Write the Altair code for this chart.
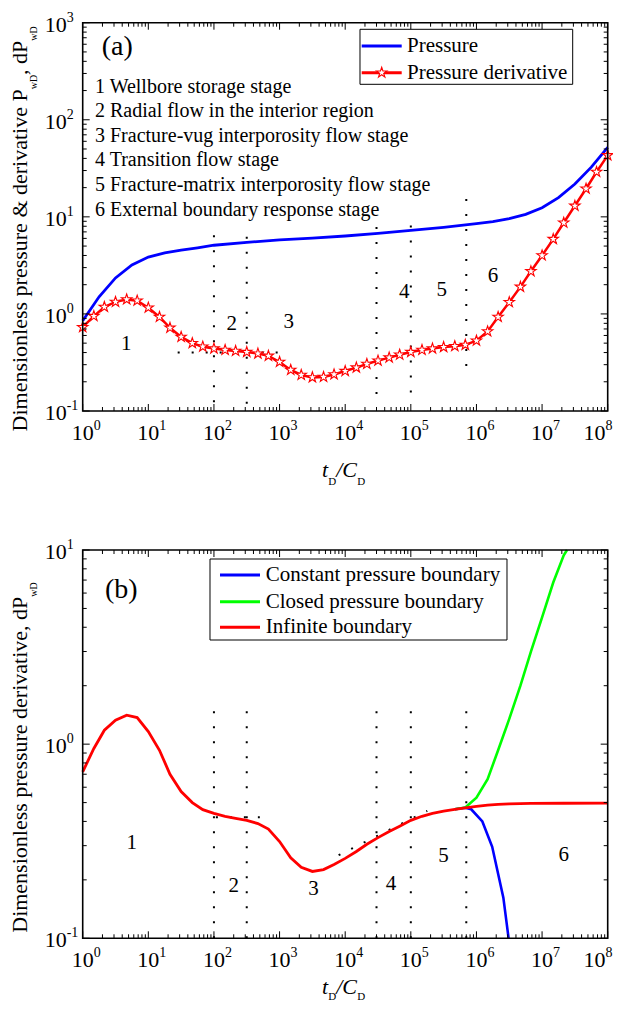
import altair as alt
import pandas as pd

FONT = "Liberation Serif"
W, H = 525, 388.3          # plot area of one panel
OFF = 527.3                # vertical offset of panel (b) inside the single view
PAD_L, PAD_T, PAD_R = 74.7, 14.7, 5.3

# ---------------- data ----------------
X_EXP = [0, 1, 2, 3, 4, 5, 6, 7, 8]
YA_EXP = [-1, 0, 1, 2, 3]
YB_EXP = [-1, 0, 1]
MINOR = [2, 3, 4, 5, 6, 7, 8, 9]

# panel (a): pressure, log10(tD/CD) -> PwD
P_LOGT = [0, 0.25, 0.5, 0.75, 1.0, 1.25, 1.5, 1.75, 2.0, 2.5, 3.0, 3.5, 4.0, 4.5,
          5.0, 5.5, 6.0, 6.25, 6.5, 6.75, 7.0, 7.25, 7.5, 7.75, 8.0]
P_VAL = [0.85, 1.5, 2.35, 3.2, 3.85, 4.25, 4.55, 4.8, 5.1, 5.45, 5.8, 6.05, 6.35, 6.75,
         7.25, 7.8, 8.5, 8.95, 9.6, 10.6, 12.4, 15.8, 21.8, 32.5, 52]

# panel (a): pressure derivative (star markers)
D_LOGT = [0, 0.17, 0.33, 0.5, 0.67, 0.83, 1.0, 1.17, 1.33, 1.5, 1.67, 1.83, 2.0, 2.17,
          2.33, 2.5, 2.67, 2.83, 3.0, 3.17, 3.33, 3.5, 3.67, 3.83, 4.0, 4.17, 4.33, 4.5,
          4.67, 4.83, 5.0, 5.17, 5.33, 5.5, 5.67, 5.83, 6.0, 6.17, 6.33, 6.5, 6.67, 6.83,
          7.0, 7.17, 7.33, 7.5, 7.67, 7.83, 8.0]
D_VAL = [0.73, 0.95, 1.18, 1.33, 1.41, 1.37, 1.16, 0.93, 0.72, 0.58, 0.50, 0.46, 0.44,
         0.425, 0.415, 0.405, 0.39, 0.37, 0.32, 0.265, 0.235, 0.222, 0.224, 0.238, 0.258,
         0.28, 0.305, 0.33, 0.355, 0.38, 0.405, 0.425, 0.44, 0.455, 0.465, 0.48, 0.53,
         0.66, 0.93, 1.32, 1.9, 2.75, 4.0, 5.9, 8.7, 13, 19.5, 29, 43]

# panel (b): infinite boundary
I_LOGT = [0, 0.17, 0.33, 0.5, 0.67, 0.83, 1.0, 1.17, 1.33, 1.5, 1.67, 1.83, 2.0, 2.17,
          2.33, 2.5, 2.67, 2.83, 3.0, 3.17, 3.33, 3.5, 3.67, 3.83, 4.0, 4.17, 4.33, 4.5,
          4.67, 4.83, 5.0, 5.17, 5.33, 5.5, 5.67, 5.83, 6.0, 6.17, 6.33, 6.5, 6.83, 7.33, 8.0]
I_VAL = [0.72, 0.95, 1.18, 1.33, 1.41, 1.37, 1.16, 0.93, 0.7, 0.57, 0.50, 0.46, 0.44,
         0.425, 0.415, 0.405, 0.39, 0.365, 0.315, 0.26, 0.232, 0.221, 0.226, 0.24, 0.258,
         0.28, 0.305, 0.33, 0.355, 0.378, 0.405, 0.425, 0.44, 0.452, 0.462, 0.47, 0.478,
         0.485, 0.49, 0.493, 0.495, 0.496, 0.497]

# panel (b): closed boundary (leaves the frame at the top, 10)
C_LOGT = [5.67, 5.83, 6.0, 6.17, 6.33, 6.5, 6.67, 6.83, 7.0, 7.17, 7.33, 7.38]
C_VAL = [0.462, 0.472, 0.53, 0.66, 0.93, 1.35, 2.0, 3.0, 4.5, 6.8, 9.4, 10.0]

# panel (b): constant pressure boundary (leaves the frame at the bottom, 0.1)
K_LOGT = [5.67, 5.83, 5.92, 6.09, 6.24, 6.41, 6.49]
K_VAL = [0.462, 0.47, 0.462, 0.40, 0.296, 0.162, 0.1]

# dotted stage separators
VL_T = [100, 316, 30000, 100000, 700000]
VLA_LO = [0.123, 0.119, 0.15, 0.155, 0.29]
VLA_HI = [7.5, 7.2, 9.1, 10, 18]
VLB_LO = [0.1, 0.1, 0.1, 0.1, 0.1]
VLB_HI = [1.64, 1.64, 1.64, 1.64, 1.64]

SEGA_T1, SEGA_T2, SEGA_V1, SEGA_V2 = [28], [1000], [0.40], [0.40]
SEGB_T1, SEGB_T2 = [107, 7940], [500, 178000]
SEGB_V1, SEGB_V2 = [0.42, 0.268], [0.42, 0.453]

# stage numbers
NUM_LABELS = ["1", "2", "3", "4", "5", "6"]
NUMA_T = [4.6, 186, 1380, 79400, 295000, 1.78e6]
NUMA_V = [0.49, 0.79, 0.82, 1.67, 1.77, 2.48]
NUMB_T = [5.6, 200, 3300, 50000, 316000, 2.14e7]
NUMB_V = [0.311, 0.186, 0.18, 0.19, 0.266, 0.27]

STAGES = ["1 Wellbore storage stage",
          "2 Radial flow in the interior region",
          "3 Fracture-vug interporosity flow stage",
          "4 Transition flow stage",
          "5 Fracture-matrix interporosity flow stage",
          "6 External boundary response stage"]

STAR = ("M0,-1L0.2245,-0.309L0.9511,-0.309L0.3633,0.118L0.5878,0.809L0,0.382"
        "L-0.5878,0.809L-0.3633,0.118L-0.9511,-0.309L-0.2245,-0.309Z")

RED, BLUE, GREEN = "#ff0000", "#0000ff", "#00ff00"

xs = alt.Scale(type="log", domain=[1, 1e8], nice=False)
ysa = alt.Scale(type="log", domain=[0.1, 1000], nice=False, range=[H, 0])
ysb = alt.Scale(type="log", domain=[0.1, 10], nice=False, range=[OFF + H, OFF])

dummy = pd.DataFrame({"k": [0]})


def X(f):
    return alt.X(f"{f}:Q", scale=xs, axis=None)


def Y(f, sc):
    return alt.Y(f"{f}:Q", scale=sc, axis=None)


def txt(text, x, y, size, align="left", baseline="alphabetic", angle=None, style="normal", lh=None):
    kw = dict(text=text, font=FONT, fontSize=size, align=align, baseline=baseline,
              fontStyle=style, color="black")
    if angle is not None:
        kw["angle"] = angle
    if lh is not None:
        kw["lineHeight"] = lh
    return alt.Chart(dummy).mark_text(**kw).encode(x=alt.value(x), y=alt.value(y))


def curve(logt, vals, sc, color, width):
    df = pd.DataFrame({"t": [10.0 ** e for e in logt], "v": vals})
    return alt.Chart(df).mark_line(color=color, strokeWidth=width).encode(
        x=X("t"), y=Y("v", sc), order="t:Q")


def frame(sc, yexp, y0):
    out = []
    xmaj = pd.DataFrame({"t": [10.0 ** e for e in X_EXP]})
    xmin = pd.DataFrame({"t": [m * 10.0 ** e for e in X_EXP[:-1] for m in MINOR]})
    ymaj = pd.DataFrame({"v": [10.0 ** e for e in yexp]})
    ymin = pd.DataFrame({"v": [m * 10.0 ** e for e in yexp[:-1] for m in MINOR]})
    yb = y0 + H
    for df, L in ((xmaj, 7), (xmin, 4)):
        out.append(alt.Chart(df).mark_rule(color="black", strokeWidth=1).encode(
            x=X("t"), y=alt.value(yb), y2=alt.value(yb - L)))
        out.append(alt.Chart(df).mark_rule(color="black", strokeWidth=1).encode(
            x=X("t"), y=alt.value(y0), y2=alt.value(y0 + L)))
    for df, L in ((ymaj, 7), (ymin, 4)):
        out.append(alt.Chart(df).mark_rule(color="black", strokeWidth=1).encode(
            y=Y("v", sc), x=alt.value(0), x2=alt.value(L)))
        out.append(alt.Chart(df).mark_rule(color="black", strokeWidth=1).encode(
            y=Y("v", sc), x=alt.value(W), x2=alt.value(W - L)))
    # frame box
    out.append(alt.Chart(dummy).mark_rect(fillOpacity=0, stroke="black", strokeWidth=1.6).encode(
        x=alt.value(0), x2=alt.value(W), y=alt.value(y0), y2=alt.value(yb)))
    # tick labels 10^n (last one pulled in so it stays inside the page)
    inner = X_EXP[:-1]
    xd = pd.DataFrame({"t": [10.0 ** e for e in inner], "b": ["10"] * len(inner),
                       "e": [str(e) for e in inner]})
    yd = pd.DataFrame({"v": [10.0 ** e for e in yexp], "b": ["10"] * len(yexp),
                       "e": [str(e) for e in yexp]})
    out.append(alt.Chart(xd).mark_text(font=FONT, fontSize=22, align="center", baseline="alphabetic").encode(
        x=X("t"), y=alt.value(yb + 29), text="b:N"))
    out.append(alt.Chart(xd).mark_text(font=FONT, fontSize=14, align="left", baseline="alphabetic", dx=11).encode(
        x=X("t"), y=alt.value(yb + 19), text="e:N"))
    last_x = W + PAD_R - 7.5
    out.append(txt("10", last_x, yb + 29, 22, align="right"))
    out.append(txt(str(X_EXP[-1]), last_x, yb + 19, 14, align="left"))
    out.append(alt.Chart(yd).mark_text(font=FONT, fontSize=22, align="right", baseline="alphabetic", dy=9).encode(
        y=Y("v", sc), x=alt.value(-16), text="b:N"))
    out.append(alt.Chart(yd).mark_text(font=FONT, fontSize=14, align="left", baseline="alphabetic", dy=-1).encode(
        y=Y("v", sc), x=alt.value(-16), text="e:N"))
    return out


def xtitle(base, sub):
    return [txt("t", 239.3, base, 22, style="italic"),
            txt("D", 245.6, sub, 11),
            txt("/C", 253.5, base, 22, style="italic"),
            txt("D", 274.5, sub, 11)]


def dotted(sc, lo, hi, t1, t2, v1, v2):
    v = pd.DataFrame({"t": VL_T, "lo": lo, "hi": hi})
    s = pd.DataFrame({"t1": t1, "t2": t2, "v1": v1, "v2": v2})
    a = alt.Chart(v).mark_rule(color="black", strokeWidth=2, strokeDash=[2, 13]).encode(
        x=X("t"), y=Y("lo", sc), y2="hi:Q")
    b = alt.Chart(s).mark_rule(color="black", strokeWidth=2, strokeDash=[2, 12]).encode(
        x=X("t1"), x2="t2:Q", y=Y("v1", sc), y2="v2:Q")
    return [a, b]


def numbers(sc, ts, vs):
    df = pd.DataFrame({"t": ts, "v": vs, "lab": NUM_LABELS})
    return alt.Chart(df).mark_text(font=FONT, fontSize=21, align="center", baseline="middle").encode(
        x=X("t"), y=Y("v", sc), text="lab:N")


def star_at(x=None, y=None, df=None, sc=None):
    m = dict(shape=STAR, filled=True, fill="white", stroke=RED, strokeWidth=1.1, size=120, opacity=1)
    if df is not None:
        return alt.Chart(df).mark_point(**m).encode(x=X("t"), y=Y("v", sc))
    return alt.Chart(dummy).mark_point(**m).encode(x=alt.value(x), y=alt.value(y))


def hline(color, x1, x2, y):
    return alt.Chart(dummy).mark_rule(color=color, strokeWidth=3).encode(
        x=alt.value(x1), x2=alt.value(x2), y=alt.value(y))


def box(x1, x2, y1, y2):
    return alt.Chart(dummy).mark_rect(fill="white", stroke="black", strokeWidth=1).encode(
        x=alt.value(x1), x2=alt.value(x2), y=alt.value(y1), y2=alt.value(y2))


# ---------------- panel (a) ----------------
dstar = pd.DataFrame({"t": [10.0 ** e for e in D_LOGT], "v": D_VAL})

layers_a = [
    *dotted(ysa, VLA_LO, VLA_HI, SEGA_T1, SEGA_T2, SEGA_V1, SEGA_V2),
    curve(P_LOGT, P_VAL, ysa, BLUE, 2.8),
    curve(D_LOGT, D_VAL, ysa, RED, 2.5),
    star_at(df=dstar, sc=ysa),
    *frame(ysa, YA_EXP, 0),
    *xtitle(H + 66, H + 74),
    txt("Dimensionless pressure & derivative P", -56, 66.6, 22, align="right", angle=270),
    txt("wD", -46, 66.6, 10, align="left", angle=270),
    txt(", dP", -56, 52.2, 22, align="left", angle=270),
    txt("wD", -46, 18.0, 10, align="left", angle=270),
    txt("(a)", 19, 32.3, 28),
    txt(STAGES, 12.3, 70, 20, lh=24.6),
    numbers(ysa, NUMA_T, NUMA_V),
    box(277.3, 490, 6.6, 61.6),
    hline(BLUE, 279, 319, 23.3),
    hline(RED, 279, 319, 50),
    star_at(299, 50),
    txt("Pressure", 324.3, 23.3, 21, baseline="middle"),
    txt("Pressure derivative", 324.3, 50, 21, baseline="middle"),
]

# ---------------- panel (b) ----------------
layers_b = [
    *dotted(ysb, VLB_LO, VLB_HI, SEGB_T1, SEGB_T2, SEGB_V1, SEGB_V2),
    curve(K_LOGT, K_VAL, ysb, BLUE, 2.6),
    curve(C_LOGT, C_VAL, ysb, GREEN, 2.6),
    curve(I_LOGT, I_VAL, ysb, RED, 2.8),
    *frame(ysb, YB_EXP, OFF),
    *xtitle(OFF + H + 56, OFF + H + 62),
    txt("Dimensionless pressure derivative, dP", -56, OFF + 46.7, 22, align="right", angle=270),
    txt("wD", -46, OFF + 46.7, 10, align="left", angle=270),
    txt("(b)", 22.3, OFF + 48.3, 28),
    numbers(ysb, NUMB_T, NUMB_V),
    box(127.3, 424.3, OFF + 9, OFF + 90),
    hline(BLUE, 137.3, 177.3, OFF + 25),
    hline(GREEN, 137.3, 177.3, OFF + 51.7),
    hline(RED, 137.3, 177.3, OFF + 77.3),
    txt("Constant pressure boundary", 183, OFF + 25, 21, baseline="middle"),
    txt("Closed pressure boundary", 183, OFF + 51.7, 21, baseline="middle"),
    txt("Infinite boundary", 183, OFF + 77.3, 21, baseline="middle"),
]

TOTAL_H = OFF + H
chart = alt.layer(*layers_a, *layers_b).resolve_scale(y="independent").properties(
    width=W, height=TOTAL_H,
    autosize=alt.AutoSizeParams(type="none"),
    padding={"left": PAD_L, "top": PAD_T, "right": PAD_R, "bottom": 997 - PAD_T - TOTAL_H},
).configure_view(strokeWidth=0)

chart.save("out.html", embed_options={"renderer": "svg", "actions": False})
